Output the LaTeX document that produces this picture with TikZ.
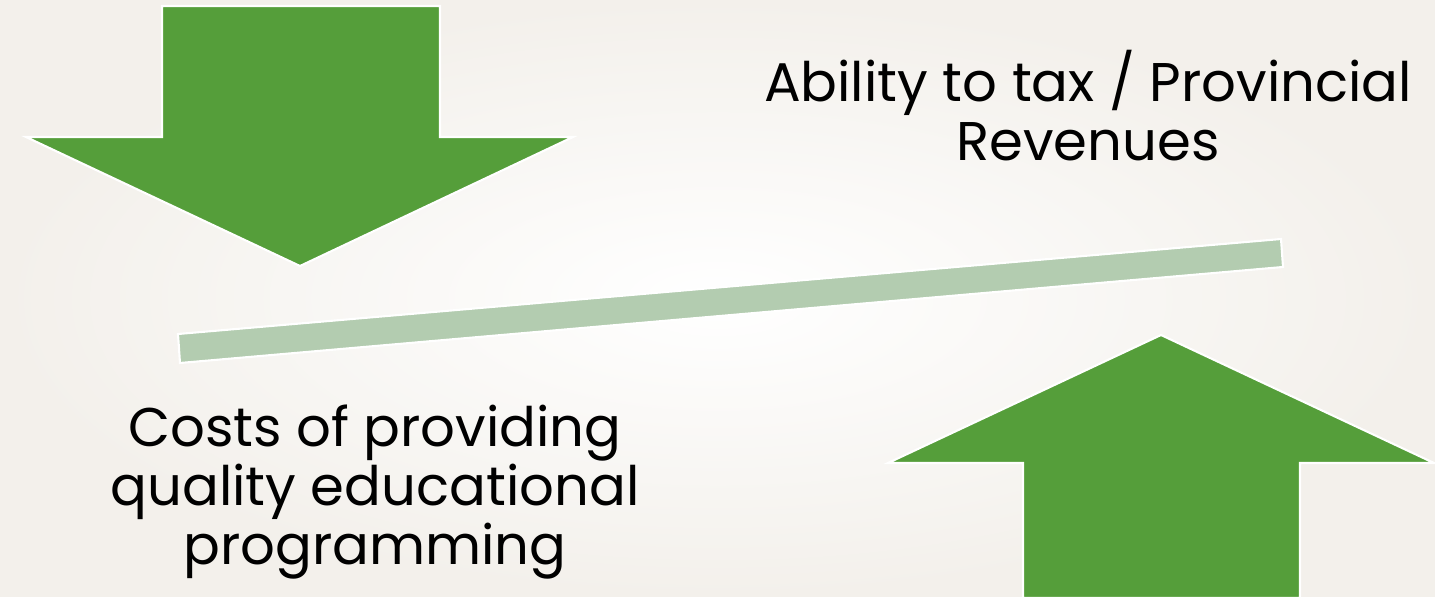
\documentclass[tikz,border=0pt]{standalone}
\usepackage{fontspec}
\setmainfont{Poppins}
\usepackage{tikz}
\usetikzlibrary{
  positioning,
  calc
}
\usepackage{xcolor}
\definecolor{arrowGreen}{RGB}{85,158,58}
\definecolor{beamGreen}{RGB}{179,204,176}
\definecolor{paperEdge}{RGB}{243,240,235}
\tikzset{
  bigArrow/.style={
    fill=arrowGreen,
    draw=white,
    line width=1.2pt,
    line join=miter
  },
  beam/.style={
    fill=beamGreen,
    draw=white,
    line width=1.2pt
  },
  caption/.style={
    align=center,
    inner sep=0pt,
    font=\fontsize{31}{33.5}\selectfont,
    text=black
  }
}

\begin{document}
\begin{tikzpicture}[x=0.02cm, y=-0.02cm]

  % page
  \useasboundingbox (0,0) rectangle (1435,597);
  \shade[inner color=white, outer color=paperEdge] (0,0) rectangle (1435,597);

  % the two arrows
  \draw[bigArrow] (162,6) -- (440,6) -- (440,137) -- (573,137)
    -- (300,266) -- (26,137) -- (162,137) -- cycle;
  \draw[bigArrow] (1161,335) -- (1434,463) -- (1300,463) -- (1300,598)
    -- (1023,598) -- (1023,463) -- (888,463) -- cycle;

  % tilted beam
  \draw[beam] (178,334) -- (1281,239) -- (1283,267) -- (180,363) -- cycle;

  \node[caption] (revenues) at (1088,106)
    {Ability to tax / Provincial\\Revenues};
  \node[caption] (costs) at (375,492)
    {Costs of providing\\quality educational\\programming};

\end{tikzpicture}
\end{document}
